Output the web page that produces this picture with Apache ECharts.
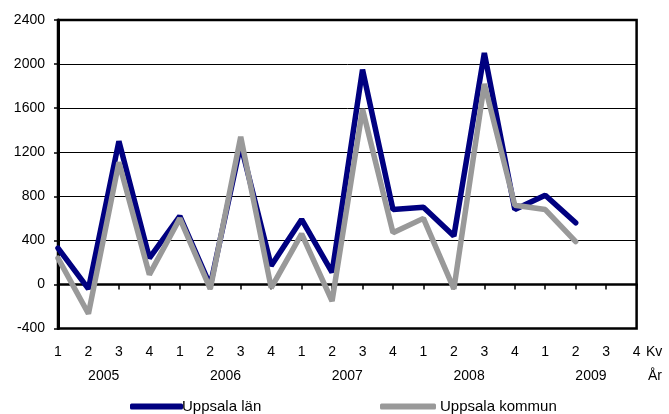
<!DOCTYPE html>
<html>
<head>
<meta charset="utf-8">
<script src="https://cdn.jsdelivr.net/npm/echarts@6/dist/echarts.min.js"></script>
<style>
html,body{margin:0;padding:0;background:#fff;}
#chart{width:669px;height:414px;}
</style>
</head>
<body>
<div id="chart"></div>
<script>
var quarters = ['1','2','3','4','1','2','3','4','1','2','3','4','1','2','3','4','1','2','3','4'];
var years = ['2005','2006','2007','2008','2009'];
var uppsalaLan = [330, -40, 1300, 240, 620, -10, 1270, 170, 590, 110, 1950, 680, 700, 440, 2100, 680, 810, 560, null, null];
var uppsalaKommun = [240, -265, 1110, 90, 600, -40, 1340, -30, 460, -150, 1590, 470, 600, -40, 1820, 720, 680, 390, null, null];
var seriesNames = ['Uppsala län', 'Uppsala kommun'];
var yMin = -400, yMax = 2400, yStep = 400;

var font = 'Liberation Sans, Arial, sans-serif';
var chart = echarts.init(document.getElementById('chart'), null, {renderer: 'canvas'});
var step = (636.6 - 58) / 19;

chart.setOption({
  animation: false,
  backgroundColor: '#fff',
  textStyle: {fontFamily: font},
  grid: [
    {left: 58, right: 669 - 636.6, top: 20, bottom: 414 - 328.6, show: true, borderColor: '#000', borderWidth: 2.5, backgroundColor: 'transparent'},
    {left: 58 - step / 2, right: 669 - 636.6 - step / 2, top: 20, bottom: 414 - 328.6, show: false}
  ],
  legend: [
    {data: [seriesNames[0]], left: 125, top: 394, itemWidth: 53, itemHeight: 6, itemGap: 0, icon: 'roundRect',
     textStyle: {fontFamily: font, fontSize: 15, color: '#000', padding: [0, 0, 0, -6]}},
    {data: [seriesNames[1]], left: 375, top: 394, itemWidth: 56, itemHeight: 6, itemGap: 0, icon: 'roundRect',
     textStyle: {fontFamily: font, fontSize: 15, color: '#000', padding: [0, 0, 0, -1]}}
  ],
  xAxis: [
    {type: 'category', gridIndex: 0, data: quarters, boundaryGap: false,
     axisLine: {onZero: true, lineStyle: {color: '#000', width: 2.5}},
     axisTick: {show: true, inside: false, length: 5, lineStyle: {color: '#000', width: 1.5}, alignWithLabel: true},
     axisLabel: {show: false}, splitLine: {show: false}},
    {type: 'category', gridIndex: 0, data: quarters, boundaryGap: false, position: 'bottom',
     axisLine: {show: false, onZero: false}, axisTick: {show: false},
     axisLabel: {show: true, interval: 0, margin: 17, fontFamily: font, fontSize: 14, color: '#000'},
     splitLine: {show: false}},
    {type: 'category', gridIndex: 1, data: years, boundaryGap: true, position: 'bottom',
     axisLine: {show: false, onZero: false}, axisTick: {show: false},
     axisLabel: {show: true, interval: 0, margin: 41, fontFamily: font, fontSize: 14, color: '#000'},
     splitLine: {show: false}}
  ],
  yAxis: [
    {type: 'value', gridIndex: 0, min: yMin, max: yMax, interval: yStep,
     axisLine: {show: true, lineStyle: {color: '#000', width: 3}},
     axisTick: {show: true, length: 4, lineStyle: {color: '#000', width: 1.5}},
     axisLabel: {margin: 13, fontFamily: font, fontSize: 14, color: '#000', formatter: function (v) { return String(v); }},
     splitLine: {show: true, lineStyle: {color: '#000', width: 1}}},
    {type: 'value', gridIndex: 1, min: yMin, max: yMax, interval: yStep, show: false}
  ],
  graphic: [
    {type: 'text', left: 646, top: 345, style: {text: 'Kv', font: '14px ' + font, fill: '#000'}},
    {type: 'text', left: 648, top: 369, style: {text: 'År', font: '14px ' + font, fill: '#000'}}
  ],
  series: [
    {name: seriesNames[0], type: 'line', xAxisIndex: 0, yAxisIndex: 0, data: uppsalaLan,
     symbol: 'none', showSymbol: false, color: '#000080',
     lineStyle: {color: '#000080', width: 5.5, join: 'bevel', cap: 'round'}},
    {name: seriesNames[1], type: 'line', xAxisIndex: 0, yAxisIndex: 0, data: uppsalaKommun,
     symbol: 'none', showSymbol: false, color: '#999999',
     lineStyle: {color: '#999999', width: 5.5, join: 'bevel', cap: 'round'}}
  ]
});
</script>
</body>
</html>
